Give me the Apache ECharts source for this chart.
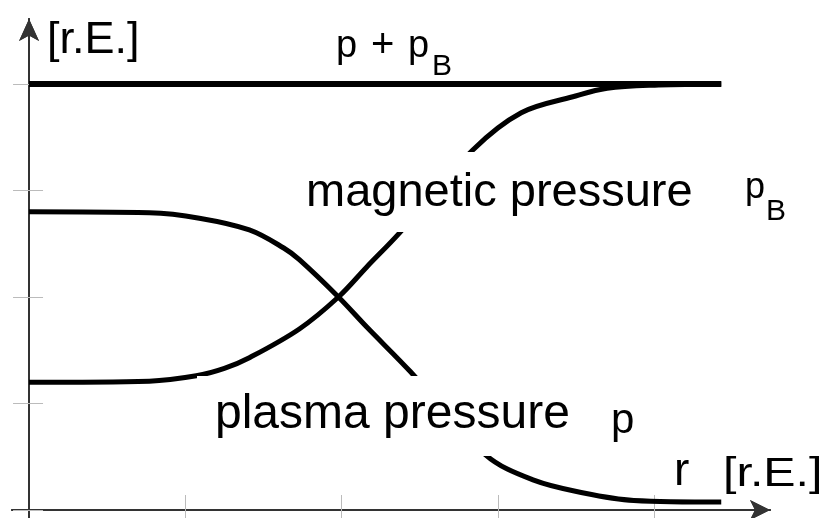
<!DOCTYPE html>
<html>
<head>
<meta charset="utf-8">
<script src="https://cdn.jsdelivr.net/npm/echarts@6/dist/echarts.min.js"></script>
<style>
  html, body { margin: 0; padding: 0; background: #fff; }
  #main { width: 827px; height: 518px; }
</style>
</head>
<body>
<div id="main"></div>
<script>
// radius [r.E.] and pressure [r.E.]
var rPlasma = [0, 0.77, 1.09, 1.41, 1.63, 1.73, 1.98, 2.16, 2.44, 2.92, 3.23, 3.55, 3.87, 4.43];
var pPlasma = [2.80, 2.79, 2.74, 2.63, 2.46, 2.35, 2.00, 1.72, 1.30, 0.52, 0.28, 0.16, 0.09, 0.075];
var rMagnetic = [0, 0.77, 1.07, 1.25, 1.41, 1.73, 1.98, 2.16, 2.37, 2.84, 3.15, 3.48, 3.70, 4.03, 4.43];
var pMagnetic = [1.20, 1.21, 1.26, 1.33, 1.43, 1.70, 2.00, 2.28, 2.60, 3.38, 3.73, 3.88, 3.96, 3.99, 4.00];
var rTotal = [0, 4.43];
var pTotal = [4, 4];
var xTickValues = [1, 2, 3, 4];
var yTickValues = [0, 1, 2, 3, 4];

var FONT = '"Liberation Sans", Arial, sans-serif';

function pairs(xs, ys) {
  return xs.map(function (x, i) { return [x, ys[i]]; });
}

// text placed by its left edge and baseline
function txt(text, left, baseline, size, extra) {
  var el = {
    type: 'text',
    x: left,
    y: baseline - 0.31 * size,
    z: 101,
    style: {
      text: text,
      fill: '#000',
      font: size + 'px ' + FONT,
      verticalAlign: 'middle'
    }
  };
  if (extra) {
    for (var k in extra) el[k] = extra[k];
  }
  return el;
}

function blank(x, y, w, h) {
  return {
    type: 'rect',
    z: 100,
    shape: { x: x, y: y, width: w, height: h },
    style: { fill: '#fff' }
  };
}

var chartDom = document.getElementById('main');
var myChart = echarts.init(chartDom);
var option;

var axisLine = {
  show: true,
  onZero: true,
  onZeroAxisIndex: 0,
  symbol: ['none', 'arrow'],
  lineStyle: { color: '#333', width: 2 }
};

option = {
  animation: false,
  backgroundColor: '#fff',
  grid: { left: 12, right: 57, top: 19, bottom: 0 },
  xAxis: [
    {
      type: 'value', position: 'bottom', min: -0.109, max: 4.742,
      axisLine: Object.assign({}, axisLine, { symbolSize: [15, 20] }),
      axisTick: { show: true, customValues: xTickValues, length: 8, lineStyle: { color: '#bbb', width: 1 } },
      axisLabel: { show: false },
      splitLine: { show: false }
    },
    {
      type: 'value', position: 'bottom', min: -0.109, max: 4.742,
      axisLine: Object.assign({}, axisLine, { symbolSize: [15, 20] }),
      axisTick: { show: true, inside: true, customValues: xTickValues, length: 15, lineStyle: { color: '#bbb', width: 1 } },
      axisLabel: { show: false },
      splitLine: { show: false }
    }
  ],
  yAxis: [
    {
      type: 'value', position: 'left', min: -0.075, max: 4.61,
      axisLine: Object.assign({}, axisLine, { symbolSize: [15, 22] }),
      axisTick: { show: true, customValues: yTickValues, length: 16, lineStyle: { color: '#bbb', width: 1 } },
      axisLabel: { show: false },
      splitLine: { show: false }
    },
    {
      type: 'value', position: 'left', min: -0.075, max: 4.61,
      axisLine: Object.assign({}, axisLine, { symbolSize: [15, 22] }),
      axisTick: { show: true, inside: true, customValues: yTickValues, length: 14, lineStyle: { color: '#bbb', width: 1 } },
      axisLabel: { show: false },
      splitLine: { show: false }
    }
  ],
  series: [
    {
      name: 'p + pB',
      type: 'line',
      data: pairs(rTotal, pTotal),
      showSymbol: false,
      lineStyle: { color: '#000', width: 6 }
    },
    {
      name: 'magnetic pressure',
      type: 'line',
      data: pairs(rMagnetic, pMagnetic),
      smooth: 0.35,
      showSymbol: false,
      lineStyle: { color: '#000', width: 5 }
    },
    {
      name: 'plasma pressure',
      type: 'line',
      data: pairs(rPlasma, pPlasma),
      smooth: 0.35,
      showSymbol: false,
      lineStyle: { color: '#000', width: 5 }
    }
  ],
  graphic: [
    blank(300, 152, 500, 80),
    blank(197, 376, 440, 80),
    txt('[r.E.]', 47, 55, 45),
    txt('p', 336, 58, 38),
    txt('+', 371, 58, 40),
    txt('p', 408, 58, 38),
    txt('B', 432, 76, 30),
    txt('magnetic pressure', 306, 208, 47),
    txt('p', 745, 199, 36),
    txt('B', 766, 221, 30),
    txt('plasma pressure', 215, 430, 48),
    txt('p', 611, 434, 42),
    txt('r', 674, 487, 46),
    txt('[r.E.]', 723, 487, 41, { scaleX: 1.18 })
  ]
};

option && myChart.setOption(option);
</script>
</body>
</html>
